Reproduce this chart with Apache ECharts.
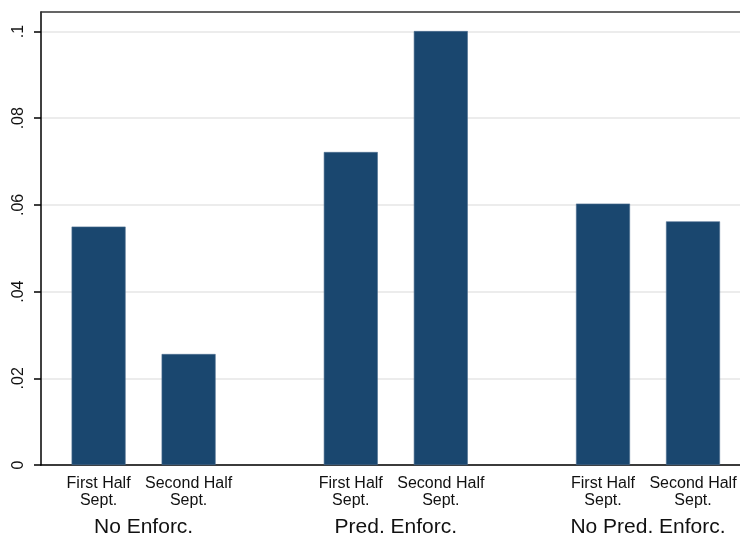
<!DOCTYPE html>
<html>
<head>
<meta charset="utf-8">
<script src="https://cdn.jsdelivr.net/npm/echarts@6/dist/echarts.min.js"></script>
<style>html,body{margin:0;padding:0;background:#fff}#c{width:740px;height:540px}</style>
</head>
<body>
<div id="c"></div>
<script>
const groups = ['No Enforc.', 'Pred. Enforc.', 'No Pred. Enforc.'];
const subLabels = ['First Half\nSept.', 'Second Half\nSept.'];
const firstHalf = [0.055, 0.0722, 0.0603];
const secondHalf = [0.0256, 0.1001, 0.0562];
const yTickValues = [0, 0.02, 0.04, 0.06, 0.08, 0.1];
const yTickLabels = ['0', '.02', '.04', '.06', '.08', '.1'];
const yMax = 0.1045;

const chart = echarts.init(document.getElementById('c'), null, {renderer: 'canvas'});
const textColor = '#111';
const font = 'Arial, "Liberation Sans", sans-serif';

function labelFor(v) {
  for (let i = 0; i < yTickValues.length; i++) {
    if (Math.abs(v - yTickValues[i]) < 1e-9) return yTickLabels[i];
  }
  return '';
}

chart.setOption({
  backgroundColor: '#fff',
  animation: false,
  grid: [
    {left: 41, width: 710, top: 12, bottom: 75, outerBoundsMode: 'none', containLabel: false},
    {left: 17.5, width: 756.6, top: 12, bottom: 75, outerBoundsMode: 'none', containLabel: false}
  ],
  xAxis: [
    {gridIndex: 0, type: 'value', min: 0, max: 1, position: 'bottom',
     axisLine: {show: true, lineStyle: {color: '#000', width: 1.5}},
     axisTick: {show: false}, axisLabel: {show: false}, splitLine: {show: false}},
    {gridIndex: 0, type: 'value', min: 0, max: 1, position: 'top',
     axisLine: {show: true, lineStyle: {color: '#333', width: 1.5}},
     axisTick: {show: false}, axisLabel: {show: false}, splitLine: {show: false}},
    {gridIndex: 1, type: 'category', data: groups,
     axisLine: {show: false}, axisTick: {show: false},
     axisLabel: {margin: 52, fontSize: 21, color: textColor, fontFamily: font, interval: 0}}
  ],
  yAxis: [
    {gridIndex: 0, type: 'value', min: 0, max: yMax,
     axisLine: {show: true, lineStyle: {color: '#000', width: 1.5}},
     axisTick: {show: true, length: 7, customValues: yTickValues, lineStyle: {color: '#000', width: 1.5}},
     axisLabel: {customValues: yTickValues, formatter: labelFor, rotate: 90, margin: 14,
                 fontSize: 16, color: textColor, fontFamily: font},
     splitLine: {show: true, lineStyle: {color: '#e6e6e6', width: 1.5}}},
    {gridIndex: 1, type: 'value', min: 0, max: yMax, show: false,
     splitLine: {show: false}}
  ],
  series: [
    {type: 'bar', name: subLabels[0], xAxisIndex: 2, yAxisIndex: 1, data: firstHalf,
     barGap: '66.7%', barCategoryGap: '42.9%',
     itemStyle: {color: '#1a476f', borderColor: '#4d6f90', borderWidth: 0.6},
     label: {show: true, position: 'bottom', distance: 10, formatter: () => subLabels[0],
             fontSize: 16, lineHeight: 17, color: textColor, fontFamily: font, align: 'center'}},
    {type: 'bar', name: subLabels[1], xAxisIndex: 2, yAxisIndex: 1, data: secondHalf,
     barGap: '66.7%', barCategoryGap: '42.9%',
     itemStyle: {color: '#1a476f', borderColor: '#4d6f90', borderWidth: 0.6},
     label: {show: true, position: 'bottom', distance: 10, formatter: () => subLabels[1],
             fontSize: 16, lineHeight: 17, color: textColor, fontFamily: font, align: 'center'}}
  ]
});
</script>
</body>
</html>
